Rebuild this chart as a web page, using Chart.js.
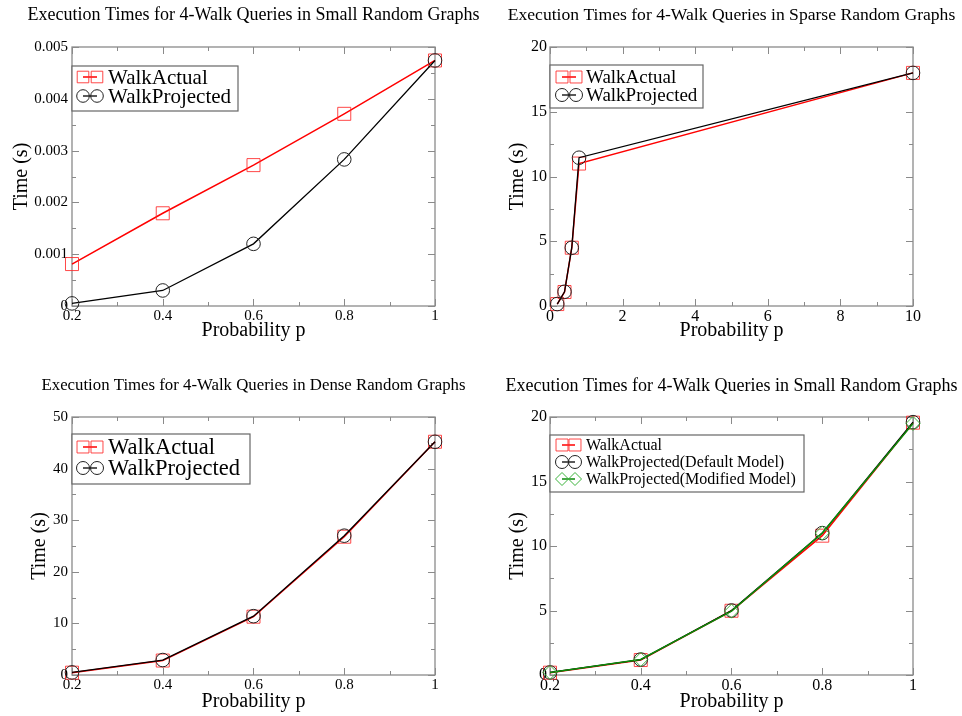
<!DOCTYPE html>
<html>
<head>
<meta charset="utf-8">
<script src="https://cdn.jsdelivr.net/npm/chart.js@4.4.1/dist/chart.umd.min.js"></script>
<style>
  html, body { margin: 0; padding: 0; background: #fff; }
  body { width: 962px; height: 716px; position: relative; overflow: hidden; }
  canvas { position: absolute; }
</style>
</head>
<body>
<canvas id="c1" width="506" height="358" style="left:0;top:0"></canvas>
<canvas id="c2" width="451" height="358" style="left:506px;top:0"></canvas>
<canvas id="c3" width="506" height="358" style="left:0;top:358px"></canvas>
<canvas id="c4" width="451" height="358" style="left:506px;top:358px"></canvas>
<script>
// ---------------- data ----------------
const titleSmall = 'Execution Times for 4-Walk Queries in Small Random Graphs';
const titleSparse = 'Execution Times for 4-Walk Queries in Sparse Random Graphs';
const titleDense = 'Execution Times for 4-Walk Queries in Dense Random Graphs';
const xTitle = 'Probability p';
const yTitle = 'Time (s)';

const pSmall = [0.2, 0.4, 0.6, 0.8, 1];
const smallActual = [0.00081, 0.00179, 0.00272, 0.00371, 0.00474];
const smallProjected = [0.00005, 0.0003, 0.0012, 0.00283, 0.00474];

const pSparse = [0.2, 0.4, 0.6, 0.8, 10];
const sparseActual = [0.15, 1.08, 4.5, 11.0, 18.0];
const sparseProjected = [0.15, 1.1, 4.5, 11.45, 18.0];

const pDense = [0.2, 0.4, 0.6, 0.8, 1];
const denseActual = [0.45, 2.8, 11.3, 26.8, 45.2];
const denseProjected = [0.5, 2.9, 11.4, 27.0, 45.2];

const pSmall2 = [0.2, 0.4, 0.6, 0.8, 1];
const small2Actual = [0.18, 1.16, 4.98, 10.8, 19.56];
const small2Default = [0.2, 1.2, 5.0, 11.0, 19.6];
const small2Modified = [0.2, 1.2, 4.95, 11.0, 19.5];

// ---------------- helpers ----------------
const FONT = "'Liberation Serif', 'Times New Roman', serif";
function pts(xs, ys) { return xs.map((x, i) => ({ x: x, y: ys[i] })); }
function fmt(v) { return String(Number(Number(v).toFixed(6))); }

const STY = {
  actual: { borderColor: '#ff0000', borderWidth: 1.5, pointStyle: 'rect', pointRadius: 9.2, pointBorderColor: 'rgba(255,40,40,0.85)', pointBorderWidth: 1, order: 3 },
  projected: { borderColor: '#000000', borderWidth: 1.3, pointStyle: 'circle', pointRadius: 6.8, pointBorderColor: '#222', pointBorderWidth: 1, order: 2 },
  modified: { borderColor: '#0a8a0a', borderWidth: 1.5, pointStyle: 'rectRot', pointRadius: 7, pointBorderColor: '#3cb43c', pointBorderWidth: 1, order: 1 }
};
function ds(label, xs, ys, sty) {
  return Object.assign({ label: label, data: pts(xs, ys), showLine: true, fill: false, tension: 0,
    pointBackgroundColor: 'rgba(0,0,0,0)', pointHoverRadius: 0, clip: false }, sty);
}

function drawMarker(ctx, style, r, x, y, color, lw) {
  ctx.save();
  ctx.strokeStyle = color; ctx.lineWidth = lw;
  ctx.beginPath();
  if (style === 'rect') {
    const s = r * Math.SQRT1_2;
    ctx.rect(x - s, y - s, 2 * s, 2 * s);
  } else if (style === 'rectRot') {
    ctx.moveTo(x - r, y); ctx.lineTo(x, y - r); ctx.lineTo(x + r, y); ctx.lineTo(x, y + r); ctx.closePath();
  } else {
    ctx.arc(x, y, r, 0, Math.PI * 2);
  }
  ctx.stroke();
  ctx.restore();
}

const framePlugin = {
  id: 'frame',
  beforeDatasetsDraw(chart, args, o) {
    const ctx = chart.ctx, a = chart.chartArea;
    const xs = chart.scales.x, ys = chart.scales.y;
    ctx.save();
    ctx.strokeStyle = '#8a8a8a';
    ctx.lineWidth = 1.3;
    ctx.strokeRect(a.left, a.top, a.right - a.left, a.bottom - a.top);
    ctx.lineWidth = 1;
    const xt = xs.ticks.map(t => t.value), yt = ys.ticks.map(t => t.value);
    const mids = arr => arr.slice(1).map((v, i) => (v + arr[i]) / 2);
    ctx.beginPath();
    function vx(v, len) {
      const p = Math.round(xs.getPixelForValue(v)) + 0.5;
      ctx.moveTo(p, a.top); ctx.lineTo(p, a.top + len);
      ctx.moveTo(p, a.bottom); ctx.lineTo(p, a.bottom - len);
    }
    function vy(v, len) {
      const p = Math.round(ys.getPixelForValue(v)) + 0.5;
      ctx.moveTo(a.left, p); ctx.lineTo(a.left + len, p);
      ctx.moveTo(a.right, p); ctx.lineTo(a.right - len, p);
    }
    xt.forEach(v => vx(v, 7)); mids(xt).forEach(v => vx(v, 4));
    yt.forEach(v => vy(v, 7)); mids(yt).forEach(v => vy(v, 4));
    ctx.stroke();
    ctx.restore();
  },
  afterDraw(chart, args, o) {
    const ctx = chart.ctx, a = chart.chartArea;
    ctx.save();
    // title
    ctx.fillStyle = '#000';
    ctx.font = o.titleSize + 'px ' + FONT;
    ctx.textAlign = 'center';
    ctx.textBaseline = 'middle';
    ctx.fillText(o.title, (a.left + a.right) / 2, o.titleY);
    // legend
    const L = o.legend;
    ctx.fillStyle = '#fff';
    ctx.fillRect(L.l, L.t, L.r - L.l, L.b - L.t);
    ctx.strokeStyle = '#666';
    ctx.lineWidth = 1.2;
    ctx.strokeRect(L.l, L.t, L.r - L.l, L.b - L.t);
    ctx.font = L.size + 'px ' + FONT;
    ctx.textAlign = 'left';
    ctx.textBaseline = 'middle';
    chart.data.datasets.forEach((d, i) => {
      const y = L.rows[i];
      ctx.strokeStyle = d.borderColor; ctx.lineWidth = d.borderWidth;
      ctx.beginPath(); ctx.moveTo(L.mx[0], y); ctx.lineTo(L.mx[1], y); ctx.stroke();
      L.mx.forEach(mx => drawMarker(ctx, d.pointStyle, L.mr * (d.pointStyle === 'rect' ? 1.3 : 1), mx, y, d.pointBorderColor, 1));
      ctx.fillStyle = '#000';
      ctx.fillText(d.label, L.tx, y + 1);
    });
    ctx.restore();
  }
};

function makeChart(id, c) {
  const cv = document.getElementById(id);
  return new Chart(cv, {
    type: 'scatter',
    data: { datasets: c.datasets },
    options: {
      responsive: false, animation: false, devicePixelRatio: 1,
      events: [],
      layout: { padding: { top: c.plotTop, right: c.padRight, left: 0, bottom: 0 } },
      scales: {
        x: {
          type: 'linear', min: c.xMin, max: c.xMax,
          grid: { display: false, drawTicks: false }, border: { display: false },
          ticks: { stepSize: c.xStep, autoSkip: false, maxRotation: 0, padding: c.xTickPad, color: '#000',
                   font: { family: FONT, size: c.tickSize }, callback: v => fmt(v) },
          title: { display: true, text: xTitle, color: '#000', font: { family: FONT, size: 20 },
                   padding: { top: 0, bottom: c.xTitlePad } },
          afterFit: s => { s.height = c.xAxisH; }
        },
        y: {
          type: 'linear', min: c.yMin, max: c.yMax,
          grid: { display: false, drawTicks: false }, border: { display: false },
          ticks: { stepSize: c.yStep, autoSkip: false, padding: c.yTickPad, color: '#000',
                   font: { family: FONT, size: c.tickSize }, callback: v => fmt(v) },
          title: { display: true, text: yTitle, color: '#000', font: { family: FONT, size: 20 },
                   padding: { top: c.yTitlePad, bottom: 0 } },
          afterFit: s => { s.width = c.plotLeft; }
        }
      },
      plugins: {
        legend: { display: false }, tooltip: { enabled: false }, title: { display: false },
        frame: { title: c.title, titleY: c.titleY, titleSize: c.titleSize, legend: c.legend }
      }
    },
    plugins: [framePlugin]
  });
}

makeChart('c1', {
  datasets: [ds('WalkActual', pSmall, smallActual, STY.actual), ds('WalkProjected', pSmall, smallProjected, STY.projected)],
  title: titleSmall, titleY: 15, titleSize: 18,
  plotTop: 47, padRight: 506 - 435, plotLeft: 72, xAxisH: 358 - 306,
  xMin: 0.2, xMax: 1, xStep: 0.2, yMin: 0, yMax: 0.005, yStep: 0.001,
  tickSize: 15, xTickPad: 1, yTickPad: 4, xTitlePad: 15, yTitlePad: 10,
  legend: { l: 72, t: 66, r: 238, b: 111, rows: [77, 96], mx: [83, 97], mr: 6.3, tx: 108, size: 21 }
});
makeChart('c2', {
  datasets: [ds('WalkActual', pSparse, sparseActual, STY.actual), ds('WalkProjected', pSparse, sparseProjected, STY.projected)],
  title: titleSparse, titleY: 15, titleSize: 17.6,
  plotTop: 47, padRight: 451 - 407, plotLeft: 44, xAxisH: 358 - 306,
  xMin: 0, xMax: 10, xStep: 2, yMin: 0, yMax: 20, yStep: 5,
  tickSize: 16, xTickPad: 1, yTickPad: 3, xTitlePad: 15, yTitlePad: 0,
  legend: { l: 44, t: 65, r: 197, b: 108, rows: [77, 95], mx: [56, 70], mr: 6.5, tx: 80, size: 19 }
});
makeChart('c3', {
  datasets: [ds('WalkActual', pDense, denseActual, STY.actual), ds('WalkProjected', pDense, denseProjected, STY.projected)],
  title: titleDense, titleY: 28, titleSize: 16.8,
  plotTop: 59, padRight: 506 - 435, plotLeft: 72, xAxisH: 358 - 317,
  xMin: 0.2, xMax: 1, xStep: 0.2, yMin: 0, yMax: 50, yStep: 10,
  tickSize: 15, xTickPad: 1, yTickPad: 4, xTitlePad: 2, yTitlePad: 28,
  legend: { l: 72, t: 76, r: 250, b: 126, rows: [89, 110], mx: [83, 97], mr: 6.5, tx: 108, size: 22.5 }
});
makeChart('c4', {
  datasets: [ds('WalkActual', pSmall2, small2Actual, STY.actual),
             ds('WalkProjected(Default Model)', pSmall2, small2Default, STY.projected),
             ds('WalkProjected(Modified Model)', pSmall2, small2Modified, STY.modified)],
  title: titleSmall, titleY: 28, titleSize: 18,
  plotTop: 59, padRight: 451 - 407, plotLeft: 44, xAxisH: 358 - 317,
  xMin: 0.2, xMax: 1, xStep: 0.2, yMin: 0, yMax: 20, yStep: 5,
  tickSize: 16, xTickPad: 1, yTickPad: 3, xTitlePad: 2, yTitlePad: 0,
  legend: { l: 44, t: 77, r: 298, b: 134, rows: [87, 104, 121], mx: [56, 69], mr: 6.5, tx: 80, size: 16 }
});
</script>
</body>
</html>
